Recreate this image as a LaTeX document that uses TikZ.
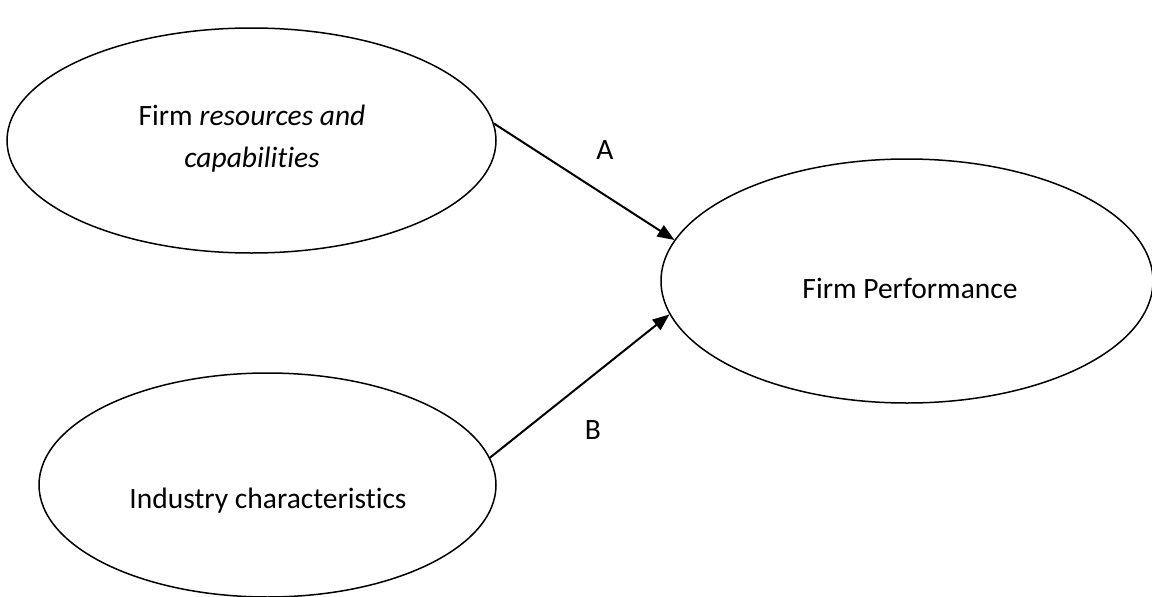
\documentclass[tikz,border=0pt]{standalone}
\usepackage{fontspec}
\setmainfont[Ligatures={NoCommon}]{Carlito}
\usetikzlibrary{shapes.geometric,arrows.meta}
\begin{document}
\begin{tikzpicture}[x=1pt,y=-1pt,
  oval/.style={ellipse, draw, line width=1.5pt, inner sep=0pt},
  lbl/.style={font=\fontsize{29.5}{42}\selectfont, align=center, inner sep=0pt, anchor=base},
  conn/.style={line width=2pt, -{Triangle[length=17pt,width=13pt]}}]
\useasboundingbox (0,0) rectangle (1152,597);
\node[oval, minimum width=489pt, minimum height=225pt] (res) at (251.5,140.5) {};
\node[oval, minimum width=457pt, minimum height=224pt] (ind) at (267.5,485) {};
\node[oval, minimum width=492pt, minimum height=244pt] (perf) at (907,281) {};
\node[lbl] (restext) at (252,167) {Firm \textit{resources and}\\\textit{capabilities}};
\node[lbl] (indtext) at (268,508) {Industry characteristics};
\node[lbl] (perftext) at (910,298) {Firm Performance};
\draw[conn] (res.4.5) -- (perf.170.8);
\draw[conn] (ind.7.9) -- (perf.188.8);
\node[lbl] (la) at (605,159) {A};
\node[lbl] (lb) at (593,439) {B};
\end{tikzpicture}
\end{document}
